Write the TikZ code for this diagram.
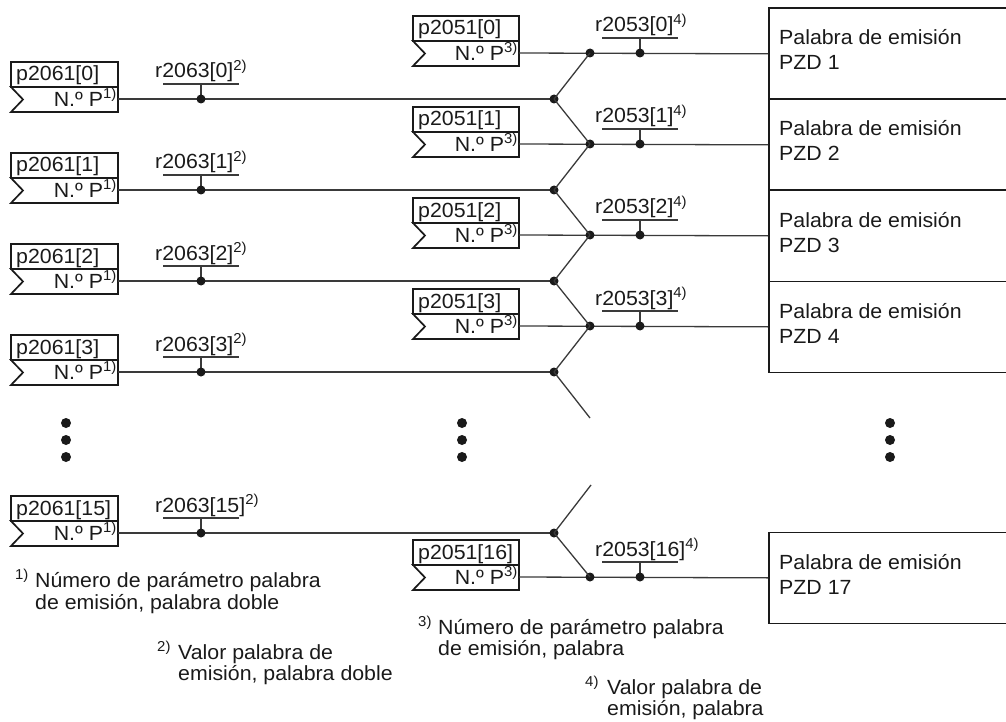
\documentclass[tikz,border=0pt]{standalone}
\usepackage{fontspec}
\setmainfont{Liberation Sans}[FakeStretch=1.04]
\definecolor{ink}{HTML}{1A1A1A}
\definecolor{wire}{HTML}{3A3A3A}
\newcommand\diafs{\fontsize{20.5}{24}\selectfont}
\begin{document}
\begin{tikzpicture}[x=1pt,y=-1pt,
  ln/.style={line width=1.3pt, draw=wire},
  bx/.style={line width=1.7pt, draw=ink},
  jdot/.style={circle, fill=ink, inner sep=0pt, minimum size=9pt},
  edot/.style={circle, fill=ink, inner sep=0pt, minimum size=10pt},
  txt/.style={inner sep=0pt, font=\diafs, text=ink},
  pzd/.style={bx, rectangle, inner sep=0pt, minimum width=250pt, minimum height=91pt, anchor=north west},
]
\useasboundingbox (0,0) rectangle (1006,722);

% left blocks p2061
\foreach \L/\i [count=\n from 0] in {99/0,190/1,281/2,372/3,533/15} {
  \draw[bx] (11,\L-37) rectangle (118,\L-12);
  \node[txt, anchor=base west] (pa\n) at (16,\L-18) {p2061[\i]};
  \draw[bx] (11,\L-12) -- (118,\L-12) -- (118,\L+13) -- (11,\L+13) -- (23,\L+0.5) -- cycle;
  \node[txt, anchor=base east] (na\n) at (117,\L+7.5) {N.º P\textsuperscript{1)}};
  \coordinate (oa\n) at (118,\L);
  \draw[ln] (201,\L-15) -- (201,\L);
  \draw[ln] (oa\n) -- (554,\L);
  \node[jdot] (ra\n) at (201,\L) {};
  \node[jdot] (ja\n) at (554,\L) {};
  \node[txt, anchor=base west] (la\n) at (155,\L-21) {r2063[\i]\textsuperscript{2)}};
  \draw[ln] (163,\L-15) -- (239,\L-15);
}

% right blocks p2051
\foreach \L/\i/\z [count=\n from 0] in {53/0/1,144/1/2,235/2/3,326/3/4,577/16/17} {
  \draw[bx] (413,\L-37) rectangle (519,\L-12);
  \node[txt, anchor=base west] (pb\n) at (418,\L-18) {p2051[\i]};
  \draw[bx] (413,\L-12) -- (519,\L-12) -- (519,\L+13) -- (413,\L+13) -- (425,\L+0.5) -- cycle;
  \node[txt, anchor=base east] (nb\n) at (518,\L+7.5) {N.º P\textsuperscript{3)}};
  \coordinate (ob\n) at (519,\L);
  \node[pzd] (z\n) at (768,\L-45.5) {};
  \draw[ln] (ob\n) -- (z\n.west);
  \draw[ln] (640,\L-15) -- (640,\L);
  \node[jdot] (jb\n) at (590,\L) {};
  \node[jdot] (rb\n) at (640,\L) {};
  \node[txt, anchor=base west] (lb\n) at (595,\L-21) {r2053[\i]\textsuperscript{4)}};
  \draw[ln] (602,\L-15) -- (678,\L-15);
  \node[txt, anchor=base west] (za\n) at (779,\L-8) {Palabra de emisión};
  \node[txt, anchor=base west] (zb\n) at (779,\L+17) {PZD \z};
}

% switch connections
\draw[ln] (ja0.center) -- (jb0.center);
\draw[ln] (ja0.center) -- (jb1.center);
\draw[ln] (ja1.center) -- (jb1.center);
\draw[ln] (ja1.center) -- (jb2.center);
\draw[ln] (ja2.center) -- (jb2.center);
\draw[ln] (ja2.center) -- (jb3.center);
\draw[ln] (ja3.center) -- (jb3.center);
\coordinate (s1) at (590,418);
\draw[ln] (ja3.center) -- (s1);
\coordinate (s2) at (591,485);
\draw[ln] (ja4.center) -- (s2);
\draw[ln] (ja4.center) -- (jb4.center);

% ellipsis dots
\foreach \x/\c in {66/a,462/b,890/c} {
  \node[edot] (e\c1) at (\x,423) {};
  \node[edot] (e\c2) at (\x,440) {};
  \node[edot] (e\c3) at (\x,457) {};
}

% footnotes
\node[txt, anchor=base west] (f1s) at (15,587) {\textsuperscript{1)}};
\node[txt, anchor=base west] (f1a) at (35,587) {Número de parámetro palabra};
\node[txt, anchor=base west] (f1b) at (35,609) {de emisión, palabra doble};
\node[txt, anchor=base west] (f2s) at (157,659) {\textsuperscript{2)}};
\node[txt, anchor=base west] (f2a) at (178,659) {Valor palabra de};
\node[txt, anchor=base west] (f2b) at (178,680) {emisión, palabra doble};
\node[txt, anchor=base west] (f3s) at (418,634) {\textsuperscript{3)}};
\node[txt, anchor=base west] (f3a) at (438,634) {Número de parámetro palabra};
\node[txt, anchor=base west] (f3b) at (438,655) {de emisión, palabra};
\node[txt, anchor=base west] (f4s) at (585,694) {\textsuperscript{4)}};
\node[txt, anchor=base west] (f4a) at (607,694) {Valor palabra de};
\node[txt, anchor=base west] (f4b) at (607,715) {emisión, palabra};
\end{tikzpicture}
\end{document}
